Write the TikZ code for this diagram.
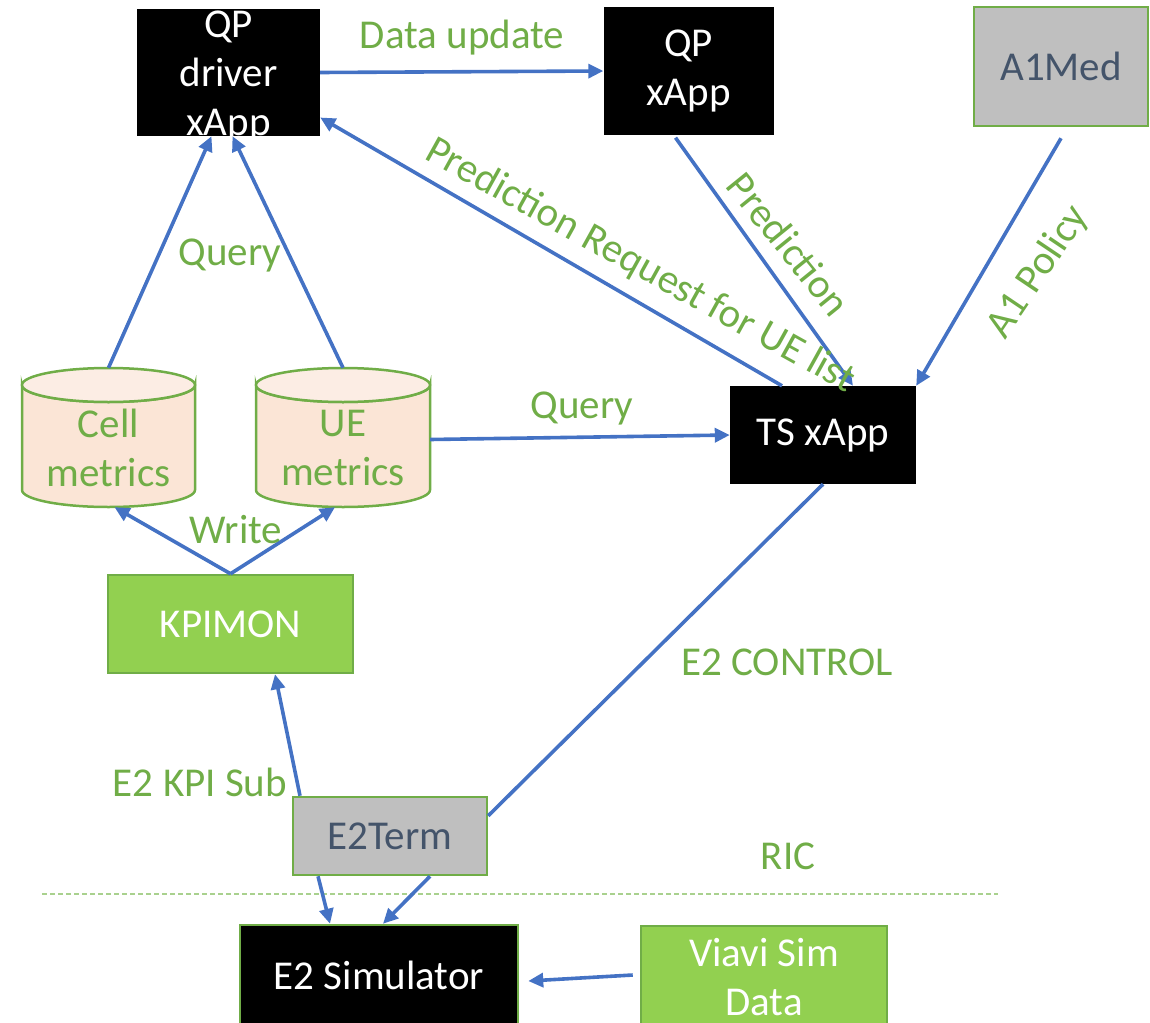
\documentclass[tikz,border=0pt]{standalone}
\usepackage{fontspec}
\setmainfont{Carlito}
\usetikzlibrary{arrows.meta}
\definecolor{arr}{HTML}{4472C4}
\definecolor{grn}{HTML}{70AD47}
\definecolor{lgrn}{HTML}{92D050}
\definecolor{gry}{HTML}{BFBFBF}
\definecolor{slate}{HTML}{44546A}
\definecolor{peach}{HTML}{FBE5D6}
\definecolor{peachl}{HTML}{FCEDE4}
\definecolor{dashg}{HTML}{A9D18E}
\begin{document}
\begin{tikzpicture}[x=1pt,y=-1pt,
  txt/.style={font=\fontsize{41}{49}\selectfont, align=center, inner sep=0},
  blk/.style={fill=black, inner sep=0},
  blkg/.style={fill=black, draw=grn, line width=2.5pt, inner sep=0},
  gbox/.style={fill=gry, draw=grn, line width=2.5pt, inner sep=0, text=slate, txt},
  lbox/.style={fill=lgrn, draw=grn, line width=2.5pt, inner sep=0, text=white, txt},
  wtxt/.style={txt, text=white},
  lab/.style={txt, text=grn},
  conn/.style={draw=arr, line width=3.6pt},
  arrow/.style={conn, -{Triangle[length=15pt,width=14pt]}},
  cylbody/.style={fill=peach, draw=grn, line width=2.5pt},
  cyltop/.style={fill=peachl, draw=grn, line width=2.5pt}
]
\useasboundingbox (0,0) rectangle (1150,1022);

% boxes
\node[blk, minimum width=183pt, minimum height=127pt] (qpd) at (228.5,72.5) {};
\node[wtxt] (qpdt) at (228.5,77) {QP\\driver\\xApp};
\node[blk, minimum width=170pt, minimum height=127pt, wtxt] (qpx) at (688.5,71) {QP\\xApp};
\node[gbox, minimum width=174pt, minimum height=119pt] (a1) at (1061,66.5) {A1Med};
\node[blk, minimum width=186pt, minimum height=98pt, wtxt] (ts) at (823,435) {TS xApp};
\node[lbox, minimum width=245pt, minimum height=98pt] (kpi) at (230.5,624) {KPIMON};
\node[gbox, minimum width=194pt, minimum height=78pt] (e2t) at (390,836) {E2Term};
\node[blkg, minimum width=278pt, minimum height=106pt] (sim) at (379,978) {};
\node[wtxt] (simt) at (379,975) {E2 Simulator};
\node[lbox, minimum width=246pt, minimum height=106pt] (via) at (764,979) {};
\node[wtxt] (viat) at (764,977) {Viavi Sim\\Data};

% cylinders
\path[cylbody] (22,385) -- (22,490) arc[start angle=180, end angle=0, x radius=86.5, y radius=17] -- (195,385) arc[start angle=0, end angle=180, x radius=86.5, y radius=17] -- cycle;
\path[cyltop] (108.5,385) ellipse[x radius=86.5, y radius=17];
\node[minimum width=173pt, minimum height=139pt, inner sep=0] (cell) at (108.5,437.5) {};
\node[lab] (cellt) at (108.5,448) {Cell\\metrics};

\path[cylbody] (256,385) -- (256,490) arc[start angle=180, end angle=0, x radius=87, y radius=17] -- (430,385) arc[start angle=0, end angle=180, x radius=87, y radius=17] -- cycle;
\path[cyltop] (343,385) ellipse[x radius=87, y radius=17];
\node[minimum width=174pt, minimum height=139pt, inner sep=0] (ue) at (343,437.5) {};
\node[lab] (uet) at (343,448) {UE\\metrics};

% dashed separator
\coordinate (d1) at (42,894);
\coordinate (d2) at (998,894);
\draw[dashg, line width=1.5pt, dash pattern=on 5pt off 3pt] (d1) -- (d2);

% connectors
\draw[arrow] (qpd.east) -- (qpx.west);
\draw[arrow] ([xshift=-41pt]ts.north) -- ([yshift=-45pt]qpd.east);
\draw[arrow] ([xshift=-13pt,yshift=-3pt]qpx.south) -- ([xshift=30pt]ts.north);
\draw[arrow] ([yshift=-11pt]a1.south) -- (ts.north east);
\draw[arrow] (cell.north) -- ([xshift=-17pt]qpd.south);
\draw[arrow] (ue.north) -- ([xshift=4pt]qpd.south);
\draw[arrow] ([yshift=-2pt]ue.east) -- (ts.west);
\draw[arrow] (kpi.north) -- ([xshift=6pt]cell.south);
\draw[arrow] (kpi.north) -- ([xshift=-8pt]ue.south);
\draw[arrow] ([xshift=-90pt]e2t.north) -- ([xshift=44.5pt]kpi.south);
\draw[conn] ([yshift=-20pt]e2t.north east) -- (ts.south);
\draw[arrow] ([xshift=-72pt]e2t.south) -- ([xshift=-49pt]sim.north);
\draw[arrow] ([xshift=40pt]e2t.south) -- ([xshift=4pt]sim.north);
\draw[arrow] ([xshift=-7pt,yshift=4pt]via.west) -- ([xshift=9pt,yshift=-3pt]sim.east);

% labels
\node[lab] (l1) at (462,38) {Data update};
\node[lab] (l2) at (230,255) {Query};
\node[lab, rotate=-29] (l3) at (640,266) {Prediction Request for UE list};
\node[lab, rotate=-51] (l4) at (789,244) {Prediction};
\node[lab, rotate=56] (l5) at (1038,272) {A1 Policy};
\node[lab] (l6) at (582,408) {Query};
\node[lab] (l7) at (236,530) {Write};
\node[lab] (l8) at (787,662) {E2 CONTROL};
\node[lab] (l9) at (200,782) {E2 KPI Sub};
\node[lab] (l10) at (788,856) {RIC};
\end{tikzpicture}
\end{document}
